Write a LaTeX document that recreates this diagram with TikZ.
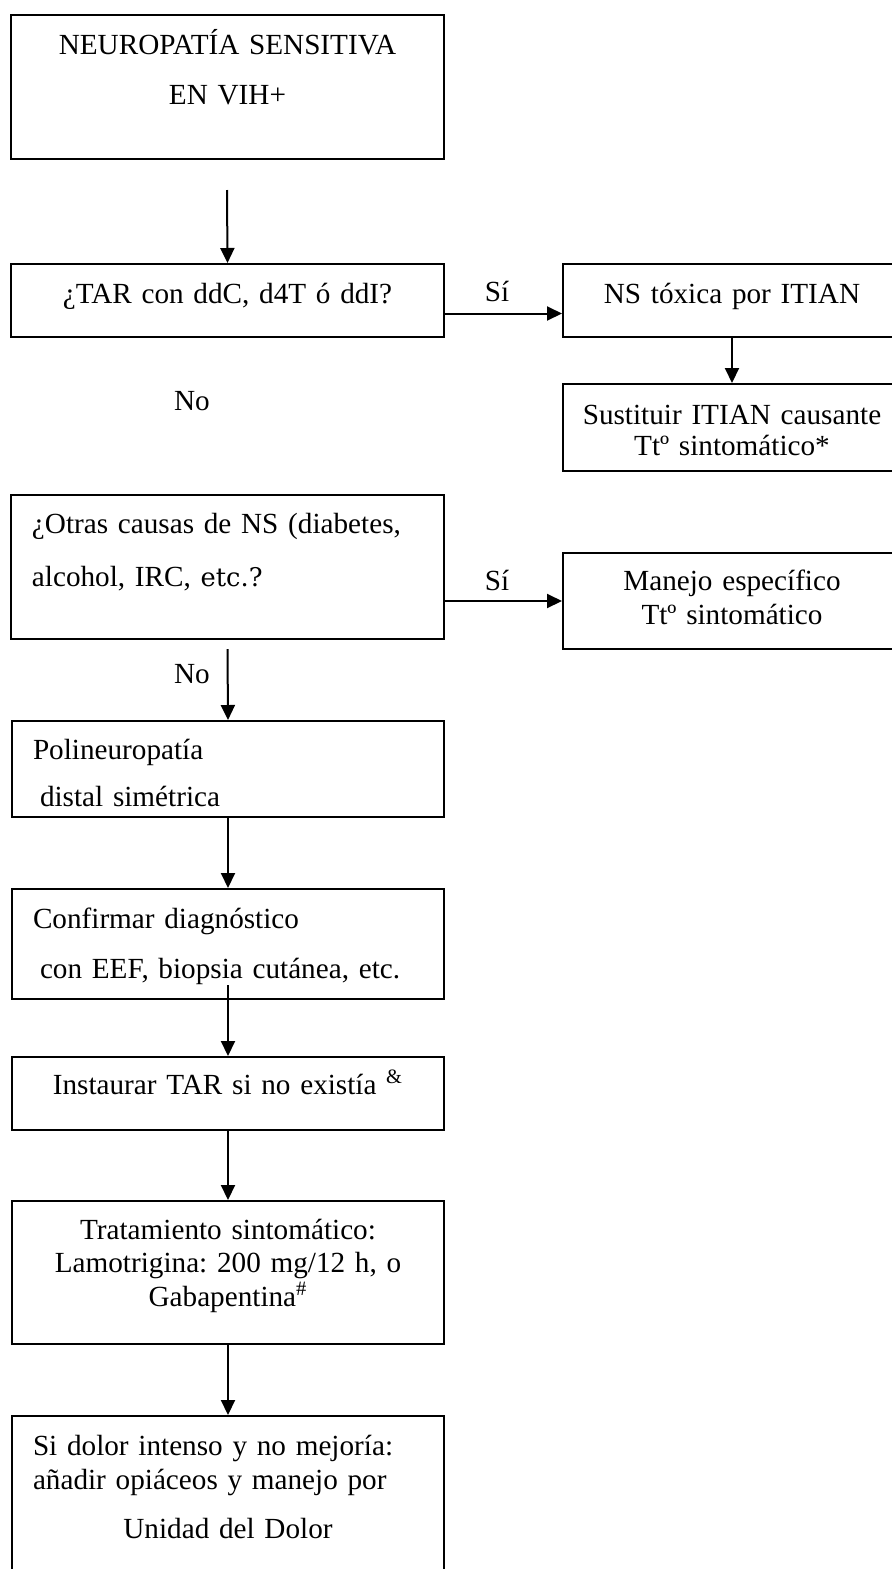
\documentclass[tikz,border=0pt]{standalone}
\usepackage{fontspec}
\setmainfont{Liberation Serif}
\newfontfamily\etcfont{DejaVu Serif}[Scale=0.88]
\usepackage{tikz}
\usetikzlibrary{
  arrows.meta,
  calc
}
\frenchspacing
\newcommand{\fcfont}[1]{\fontsize{14.6}{#1}\selectfont}
\tikzset{
  fcbox/.style={
    draw, line width=1pt, inner xsep=0pt, inner ysep=0pt, anchor=north west
  },
  cbox/.style={fcbox, align=center, text width=#1},
  lbox/.style={fcbox, align=left, inner xsep=10.5pt, text width=#1},
  flow/.style={-{Triangle[length=7.5pt, width=7pt]}, line width=1pt},
  tag/.style={font=\fcfont{17pt}, anchor=base, inner sep=0pt}
}

\begin{document}
\begin{tikzpicture}[x=0.5pt, y=-0.5pt]
  \useasboundingbox[fill=white] (0,0) rectangle (891,1569);
  \node[cbox=216.5pt, text height=19.5pt, text depth=52.5pt, font=\fcfont{25pt}] (neuro) at (10,14) {NEUROPATÍA SENSITIVA\\EN VIH+};
  \node[cbox=216.5pt, text height=19.5pt, text depth=17pt, font=\fcfont{17pt}] (tar) at (10,263) {¿TAR con ddC, d4T ó ddI?};
  \node[cbox=169pt, text height=19.5pt, text depth=17pt, font=\fcfont{17pt}] (tox) at (562,263) {NS tóxica por ITIAN};
  \node[cbox=169pt, text height=20pt, text depth=23.5pt, font=\fcfont{15.5pt}] (sust) at (562,383) {Sustituir ITIAN causante\\Ttº sintomático*};
  \node[lbox=195.5pt, text height=19pt, text depth=53pt, font=\fcfont{26.5pt}] (otras) at (10,494) {\makebox[\linewidth][s]{¿Otras causas de NS (diabetes,}\\alcohol, IRC, {\etcfont etc.?}};
  \node[cbox=169pt, text height=18.5pt, text depth=29.5pt, font=\fcfont{17pt}] (manejo) at (562,552) {Manejo específico\\Ttº sintomático};
  \node[lbox=195pt, text height=19pt, text depth=29pt, font=\fcfont{23.5pt}] (poli) at (11,720) {Polineuropatía\\\hspace*{3.5pt}distal simétrica};
  \node[lbox=195pt, text height=19.5pt, text depth=35.5pt, font=\fcfont{25pt}] (conf) at (11,888) {Confirmar diagnóstico\\\hspace*{3.5pt}con EEF, biopsia cutánea, etc.};
  \node[cbox=216pt, text height=18.5pt, text depth=18pt, font=\fcfont{17pt}] (inst) at (11,1056) {Instaurar TAR si no existía \textsuperscript{\&}};
  \node[cbox=216pt, text height=19pt, text depth=52.5pt, font=\fcfont{16.75pt}] (trat) at (11,1200) {Tratamiento sintomático:\\Lamotrigina: 200 mg/12 h, o\\Gabapentina\textsuperscript{\#}};
  \node[lbox=195pt, text height=19.5pt, text depth=80.5pt, font=\fcfont{17pt}] (dolor) at (11,1415) {Si dolor intenso y no mejoría:\\añadir opiáceos y manejo por\\[7.5pt]\makebox[\linewidth]{Unidad del Dolor}};
  \node[tag] (si1) at (497,301) {Sí};
  \node[tag] (si2) at (497,590) {Sí};
  \node[tag] (no1) at (192,410) {No};
  \node[tag] (no2) at (192,683) {No};
  \coordinate (start) at (227,190);
  \draw[flow] (start) -- (tar.north);
  \draw[flow] ($(tar.east)+(0,13)$) -- ($(tox.west)+(0,13)$);
  \draw[flow] (tox.south) -- (sust.north);
  \draw[flow] (otras.east |- manejo.west) -- (manejo.west);
  \draw[flow] ($(otras.south)+(0,9)$) -- (poli.north);
  \draw[flow] (poli.south) -- (conf.north);
  \draw[flow] ($(conf.south)+(0,-15)$) -- (inst.north);
  \draw[flow] (inst.south) -- (trat.north);
  \draw[flow] (trat.south) -- (dolor.north);
\end{tikzpicture}
\end{document}
